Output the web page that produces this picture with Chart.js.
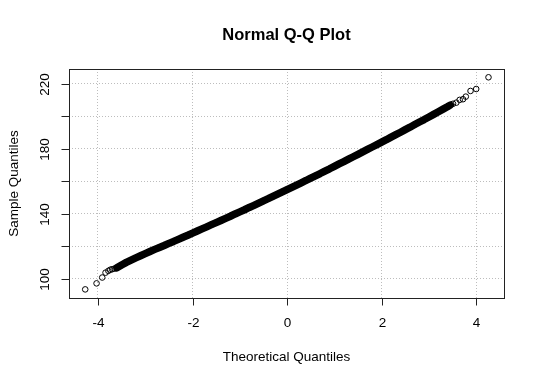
<!DOCTYPE html>
<html><head><meta charset="utf-8">
<script src="https://cdn.jsdelivr.net/npm/chart.js@4.4.0/dist/chart.umd.min.js"></script>
<style>html,body{margin:0;padding:0;background:#fff;}</style>
</head><body>
<canvas id="c" width="540" height="384" style="width:540px;height:384px;display:block"></canvas>
<script>
const chartTitle = "Normal Q-Q Plot";
const xAxisTitle = "Theoretical Quantiles";
const yAxisTitle = "Sample Quantiles";
const xTickValues = [-4, -2, 0, 2, 4];
const xTickLabels = ["-4", "-2", "0", "2", "4"];
const yTickValues = [100, 120, 140, 160, 180, 200, 220];
const yTickLabels = ["100", "", "140", "", "180", "", "220"];

// dense central band of the Q-Q points (theoretical, sample)
const bandTheoretical = [-3.6,-3.5,-3.4,-3.3,-3.2,-3.1,-3.0,-2.9,-2.8,-2.7,-2.6,-2.5,-2.4,-2.3,-2.2,-2.1,-2.0,-1.9,-1.8,-1.7,-1.6,-1.5,-1.4,-1.3,-1.2,-1.1,-1.0,-0.9,-0.8,-0.7,-0.6,-0.5,-0.4,-0.3,-0.2,-0.1,0.0,0.1,0.2,0.3,0.4,0.5,0.6,0.7,0.8,0.9,1.0,1.1,1.2,1.3,1.4,1.5,1.6,1.7,1.8,1.9,2.0,2.1,2.2,2.3,2.4,2.5,2.6,2.7,2.8,2.9,3.0,3.1,3.2,3.3,3.4,3.45];
const bandSample = [106.9,108.6,110.2,111.6,113.0,114.3,115.6,116.9,118.2,119.4,120.6,121.9,123.1,124.4,125.7,126.9,128.2,129.5,130.8,132.1,133.4,134.7,136.0,137.3,138.6,140.0,141.3,142.6,144.0,145.3,146.7,148.1,149.4,150.8,152.2,153.6,155.0,156.4,157.8,159.2,160.6,162.1,163.5,164.9,166.4,167.8,169.3,170.8,172.2,173.7,175.2,176.7,178.2,179.7,181.2,182.7,184.2,185.7,187.3,188.8,190.3,191.9,193.4,195.0,196.6,198.1,199.7,201.3,202.9,204.5,206.1,207.0];

// sparse tails
const lowTailTheoretical = [-4.27, -4.03, -3.91, -3.84, -3.78, -3.74, -3.70, -3.65];
const lowTailSample = [93.6, 97.3, 100.9, 103.9, 105.0, 105.7, 106.0, 106.4];
const highTailTheoretical = [3.51, 3.58, 3.65, 3.72, 3.78, 3.88, 4.00, 4.26];
const highTailSample = [207.8, 208.5, 210.2, 210.6, 212.2, 215.7, 216.9, 224.1];

const xMin = -4.613, xMax = 4.588, yMin = 88.3, yMax = 229.2;
const FONT = '"Liberation Sans", Arial, Helvetica, sans-serif';

function pts(xs, ys) { return xs.map((x, i) => ({ x: x, y: ys[i] })); }

const allPoints = pts(lowTailTheoretical, lowTailSample)
  .concat(pts(bandTheoretical, bandSample))
  .concat(pts(highTailTheoretical, highTailSample));

const rPlot = {
  id: 'rplot',
  afterDraw(chart) {
    const ctx = chart.ctx, a = chart.chartArea;
    const xs = chart.scales.x, ys = chart.scales.y;
    ctx.save();
    ctx.strokeStyle = '#222';
    ctx.lineWidth = 1;
    ctx.setLineDash([]);
    // box
    ctx.strokeRect(Math.round(a.left) + 0.5, Math.round(a.top) + 0.5,
      Math.round(a.right - a.left), Math.round(a.bottom - a.top));
    // x ticks
    ctx.fillStyle = '#000';
    ctx.font = '13.5px ' + FONT;
    ctx.textAlign = 'center';
    ctx.textBaseline = 'middle';
    xTickValues.forEach((v, i) => {
      const px = Math.round(xs.getPixelForValue(v)) + 0.5;
      ctx.beginPath();
      ctx.moveTo(px, Math.round(a.bottom));
      ctx.lineTo(px, Math.round(a.bottom) + 7.5);
      ctx.stroke();
      ctx.fillText(xTickLabels[i], px, 323);
    });
    // y ticks
    yTickValues.forEach((v, i) => {
      const py = Math.round(ys.getPixelForValue(v)) + 0.5;
      ctx.beginPath();
      ctx.moveTo(Math.round(a.left), py);
      ctx.lineTo(Math.round(a.left) - 7.5, py);
      ctx.stroke();
      if (yTickLabels[i]) {
        ctx.save();
        ctx.translate(45, py);
        ctx.rotate(-Math.PI / 2);
        ctx.fillText(yTickLabels[i], 0, 0);
        ctx.restore();
      }
    });
    // axis titles
    ctx.fillText(xAxisTitle, (a.left + a.right) / 2, 357);
    ctx.save();
    ctx.translate(14, (a.top + a.bottom) / 2);
    ctx.rotate(-Math.PI / 2);
    ctx.fillText(yAxisTitle, 0, 0);
    ctx.restore();
    // title
    ctx.font = 'bold 16.5px ' + FONT;
    ctx.fillText(chartTitle, (a.left + a.right) / 2, 35);
    ctx.restore();
  }
};

new Chart(document.getElementById('c'), {
  type: 'scatter',
  data: {
    datasets: [
      {
        label: 'band',
        data: pts(bandTheoretical, bandSample),
        showLine: true,
        borderColor: '#000',
        backgroundColor: '#000',
        borderWidth: 7.5,
        borderCapStyle: 'round',
        borderJoinStyle: 'round',
        pointRadius: 0,
        tension: 0,
        order: 1
      },
      {
        label: 'sample',
        data: allPoints,
        showLine: false,
        borderColor: '#000',
        backgroundColor: 'rgba(0,0,0,0)',
        pointRadius: 2.8,
        pointBorderWidth: 1,
        pointHoverRadius: 2.8,
        order: 2
      }
    ]
  },
  options: {
    responsive: false,
    devicePixelRatio: 1,
    animation: false,
    events: [],
    layout: { padding: { left: 69, top: 69, right: 36, bottom: 86 } },
    plugins: { legend: { display: false }, title: { display: false }, tooltip: { enabled: false } },
    scales: {
      x: {
        type: 'linear', min: xMin, max: xMax,
        afterBuildTicks: s => { s.ticks = xTickValues.map(v => ({ value: v })); },
        afterFit: s => { s.height = 0; },
        ticks: { display: false },
        grid: { color: '#bdbdbd', lineWidth: 1, drawTicks: false },
        border: { display: false, dash: [1, 2] }
      },
      y: {
        type: 'linear', min: yMin, max: yMax,
        afterBuildTicks: s => { s.ticks = yTickValues.map(v => ({ value: v })); },
        afterFit: s => { s.width = 0; },
        ticks: { display: false },
        grid: { color: '#bdbdbd', lineWidth: 1, drawTicks: false },
        border: { display: false, dash: [1, 2] }
      }
    }
  },
  plugins: [rPlot]
});
</script>
</body></html>
